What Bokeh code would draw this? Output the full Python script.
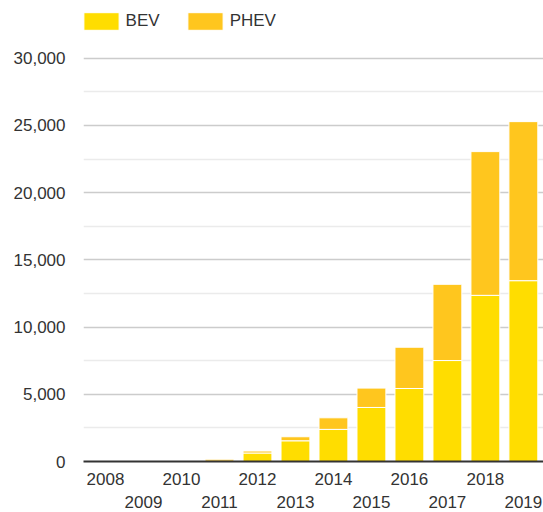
from bokeh.plotting import figure
from bokeh.models import (ColumnDataSource, Range1d, FixedTicker, LinearAxis,
                          NumeralTickFormatter, Legend)
from bokeh.embed import file_html
from bokeh.resources import INLINE

years = [2008, 2009, 2010, 2011, 2012, 2013, 2014, 2015, 2016, 2017, 2018, 2019]
bev = [0, 0, 0, 20, 630, 1540, 2390, 4020, 5430, 7510, 12360, 13450]
phev = [0, 0, 0, 150, 150, 300, 860, 1440, 3070, 5670, 10690, 11830]
series = ["BEV", "PHEV"]
colors = ["#FFDD00", "#FFC61E"]
y_ticks = [0, 5000, 10000, 15000, 20000, 25000, 30000]
y_minor = [2500, 7500, 12500, 17500, 22500, 27500]
even_years = [y for y in years if y % 2 == 0]
odd_years = [y for y in years if y % 2 == 1]

FONT = "Liberation Sans"
TXT = "#333333"

src = ColumnDataSource(dict(year=years, BEV=bev, PHEV=phev))

p = figure(width=543, height=512, output_backend="svg", toolbar_location=None,
           x_range=Range1d(2007.42, 2019.53), y_range=Range1d(0, 34290),
           x_axis_location=None, min_border_left=83, min_border_right=0,
           min_border_top=0, min_border_bottom=51)
p.outline_line_color = None
p.background_fill_color = "white"
p.border_fill_color = "white"

r = p.vbar_stack(series, x="year", width=0.76, color=colors, source=src,
                 line_color="white", line_width=1)

# y axis
yax = p.yaxis[0]
yax.ticker = FixedTicker(ticks=y_ticks, minor_ticks=y_minor)
yax.formatter = NumeralTickFormatter(format="0,0")
yax.axis_line_color = None
yax.major_tick_line_color = None
yax.minor_tick_line_color = None
yax.major_tick_out = 0
yax.minor_tick_out = 0
yax.major_label_standoff = 18
yax.major_label_text_font = FONT
yax.major_label_text_font_size = "17px"
yax.major_label_text_color = TXT

p.xgrid.grid_line_color = None
p.ygrid.ticker = FixedTicker(ticks=y_ticks, minor_ticks=y_minor)
p.ygrid.grid_line_color = "#cccccc"
p.ygrid.grid_line_width = 1.5
p.ygrid.minor_grid_line_color = "#ebebeb"
p.ygrid.minor_grid_line_width = 1.5

# x axes: even years then odd years (staggered)
ax1 = LinearAxis(ticker=FixedTicker(ticks=even_years))
ax1.axis_line_color = "#333333"
ax1.axis_line_width = 2
ax1.major_tick_line_color = None
ax1.minor_tick_line_color = None
ax1.major_tick_out = 0
ax1.minor_tick_out = 0
ax1.major_label_standoff = 11
ax1.major_label_text_font = FONT
ax1.major_label_text_font_size = "17px"
ax1.major_label_text_color = TXT
p.add_layout(ax1, "below")

ax2 = LinearAxis(ticker=FixedTicker(ticks=odd_years))
ax2.axis_line_color = None
ax2.major_tick_line_color = None
ax2.minor_tick_line_color = None
ax2.major_tick_out = 0
ax2.minor_tick_out = 0
ax2.major_label_standoff = 8
ax2.major_label_text_font = FONT
ax2.major_label_text_font_size = "17px"
ax2.major_label_text_color = TXT
p.add_layout(ax2, "below")

legend = Legend(items=[(s, [rr]) for s, rr in zip(series, r)],
                location=(-4.4, 429), orientation="horizontal")
legend.margin = 0
legend.padding = 0
legend.spacing = 23
legend.glyph_width = 44
legend.glyph_height = 22
legend.label_standoff = 3
legend.label_text_font = FONT
legend.label_text_font_size = "17px"
legend.label_text_color = TXT
legend.background_fill_alpha = 0
legend.border_line_alpha = 0
p.add_layout(legend, "center")

open("out.html", "w").write(file_html(p, INLINE))
